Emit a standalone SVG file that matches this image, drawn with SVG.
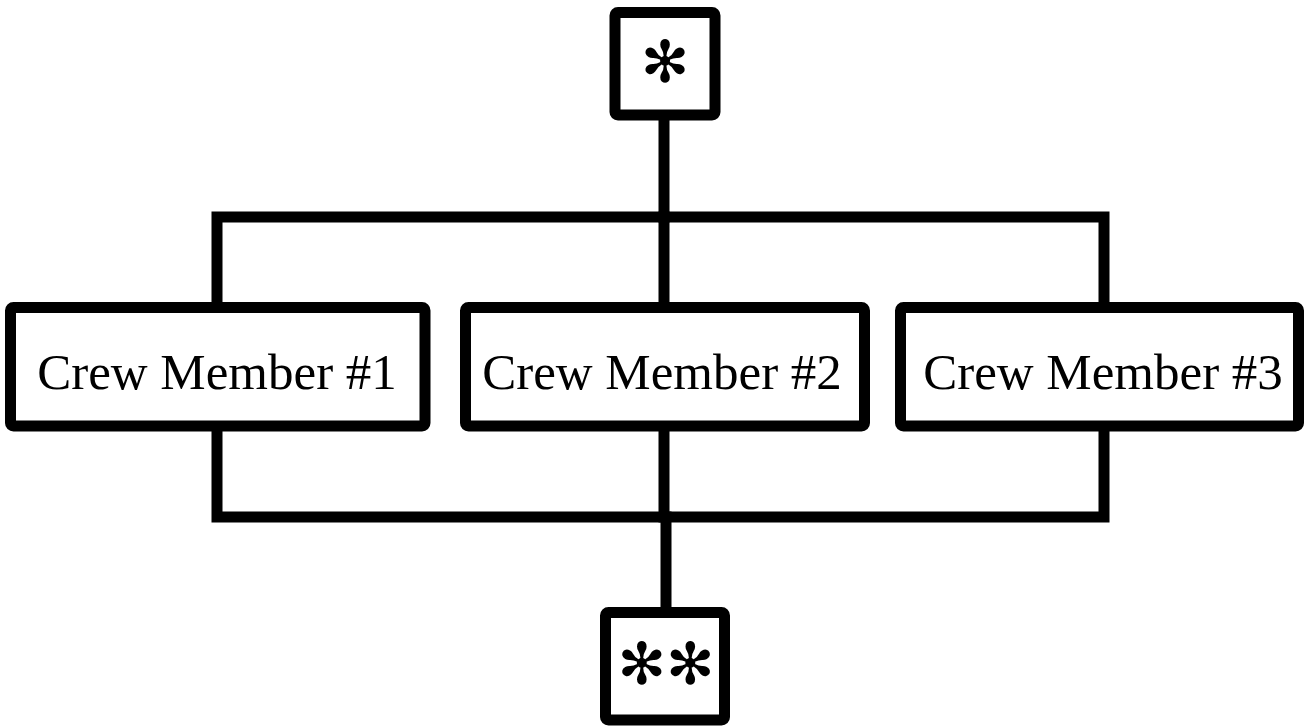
<svg xmlns="http://www.w3.org/2000/svg" width="1307" height="727" viewBox="0 0 1307 727">
<style>
.box{fill:#fff;stroke:#000;stroke-width:11;stroke-linejoin:round}
.ln{fill:none;stroke:#000;stroke-width:11;stroke-linejoin:miter;stroke-linecap:square}
.lbl{font-family:"Liberation Serif","Times New Roman",serif;font-size:51px;fill:#000;text-anchor:middle}
.ast{font-family:"DejaVu Sans",sans-serif;font-size:58px;fill:#000;text-anchor:middle}
</style>
<rect width="1307" height="727" fill="#fff"/>
<g id="connectors">
<path class="ln" d="M664,120 V217"/>
<path class="ln" d="M217,303 V217 H1104 V303"/>
<path class="ln" d="M664,217 V303"/>
<path class="ln" d="M217,431 V517 H1104 V431"/>
<path class="ln" d="M664,431 V517"/>
<path class="ln" d="M666,517 V607"/>
</g>
<g id="start">
<rect class="box" x="615" y="12.5" width="100" height="102.5" rx="3"/>
<text class="ast" x="665" y="82">✻</text>
</g>
<g id="crew1">
<rect class="box" x="10.5" y="307.5" width="414.5" height="118.5" rx="3"/>
<text class="lbl" x="217" y="389">Crew Member #1</text>
</g>
<g id="crew2">
<rect class="box" x="465.5" y="307.5" width="399" height="118.5" rx="3"/>
<text class="lbl" x="662" y="389">Crew Member #2</text>
</g>
<g id="crew3">
<rect class="box" x="900.5" y="307.5" width="398" height="118.5" rx="3"/>
<text class="lbl" x="1103" y="389">Crew Member #3</text>
</g>
<g id="end">
<rect class="box" x="605.5" y="612.5" width="119" height="107.5" rx="3"/>
<text class="ast" x="666" y="684">✻✻</text>
</g>
</svg>
